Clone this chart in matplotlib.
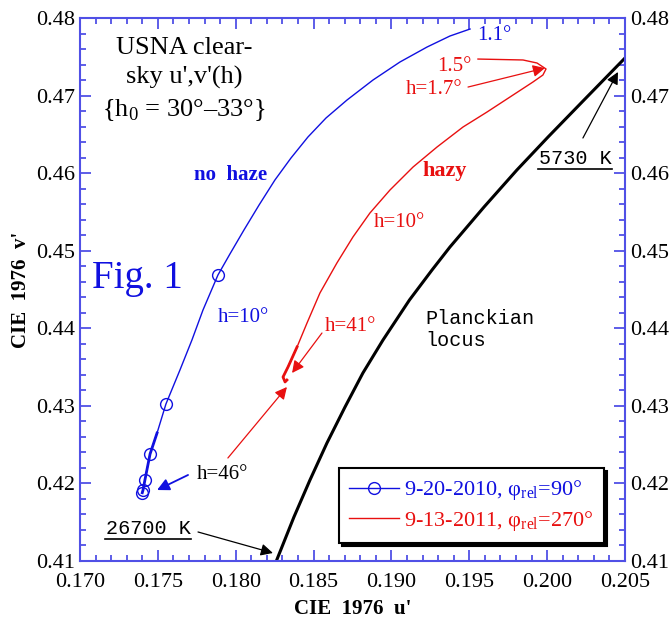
import numpy as np
import matplotlib
matplotlib.use("Agg")
import matplotlib.pyplot as plt
from matplotlib.ticker import MultipleLocator

plt.rcParams['font.family'] = ['Liberation Serif', 'DejaVu Serif']
plt.rcParams['mathtext.fontset'] = 'custom'
plt.rcParams['mathtext.rm'] = 'Liberation Serif'

# no haze, 9-20-2010 (from h=46 deg near the bottom up to h=1.1 deg)
u_blue = [0.17400, 0.17405, 0.17417, 0.17450, 0.17495, 0.17552, 0.17642, 0.17719,
          0.17790, 0.17886, 0.17963, 0.18053, 0.18150, 0.18252, 0.18355, 0.18464,
          0.18580, 0.18715, 0.18882, 0.19055, 0.19229, 0.19376, 0.19505]
v_blue = [0.41880, 0.41915, 0.42044, 0.42379, 0.42650, 0.43024, 0.43462, 0.43849,
          0.44236, 0.44687, 0.44958, 0.45267, 0.45589, 0.45912, 0.46195, 0.46466,
          0.46711, 0.46943, 0.47201, 0.47433, 0.47626, 0.47768, 0.47858]
blue_marks = [0, 1, 2, 3, 5, 9]

# hazy, 9-13-2011 (from h=1.5 deg)
u_red = [0.19556, 0.19845, 0.19935, 0.19993, 0.19973, 0.19909, 0.19781, 0.19614,
         0.19460, 0.19293, 0.19139, 0.18991, 0.18862, 0.18753, 0.18650, 0.18541,
         0.18458, 0.18394, 0.18336, 0.18304, 0.18317, 0.18329]
v_red = [0.47471, 0.47459, 0.47420, 0.47343, 0.47265, 0.47175, 0.47007, 0.46788,
         0.46595, 0.46337, 0.46079, 0.45783, 0.45486, 0.45177, 0.44842, 0.44455,
         0.44068, 0.43759, 0.43501, 0.43372, 0.43308, 0.43333]

# Planckian locus, 26700 K .. 5730 K
u_planck = [0.18261, 0.18374, 0.18477, 0.18586, 0.18702, 0.18817, 0.18946, 0.19116,
            0.19261, 0.19376, 0.19595, 0.19806, 0.20006, 0.20237, 0.20500]
v_planck = [0.41000, 0.41567, 0.42044, 0.42521, 0.42985, 0.43424, 0.43849, 0.44365,
            0.44752, 0.45048, 0.45564, 0.46041, 0.46466, 0.46943, 0.47484]

spine_col = '#5050e6'
blue = '#1010e0'
red = '#e81010'

fig = plt.figure(figsize=(6.71, 6.19), dpi=100)
ax = fig.add_axes([0.1192, 0.0937, 0.8122, 0.8772])

ax.plot(u_planck, v_planck, color='black', lw=2.2)
ax.plot(u_red, v_red, color=red, lw=1, label="9-13-2011, φ$_{\\rm rel}$=270°")
ax.plot(u_red[-5:], v_red[-5:], color=red, lw=2)
ax.plot(u_blue, v_blue, color=blue, lw=1, marker='o', markevery=blue_marks, ms=8.5,
        mfc='none', mec=blue, label="9-20-2010, φ$_{\\rm rel}$=90°")
ax.plot(u_blue[:5], v_blue[:5], color=blue, lw=2)

ax.set_xlim(0.170, 0.205)
ax.set_ylim(0.41, 0.48)
ax.xaxis.set_major_locator(MultipleLocator(0.005))
ax.xaxis.set_minor_locator(MultipleLocator(0.001))
ax.yaxis.set_major_locator(MultipleLocator(0.01))
ax.yaxis.set_minor_locator(MultipleLocator(0.002))
ax.xaxis.set_major_formatter(plt.FormatStrFormatter('%.3f'))
ax.yaxis.set_major_formatter(plt.FormatStrFormatter('%.2f'))
ax.tick_params(which='both', direction='in', top=True, right=True, labelright=True,
               color=spine_col, width=1.3, labelsize=16)
ax.tick_params(which='major', length=8)
ax.tick_params(which='minor', length=4.5)
ax.tick_params(axis='x', which='major', pad=9)
for s in ax.spines.values():
    s.set_color(spine_col)
    s.set_linewidth(1.5)

ax.set_xlabel("CIE  1976  u'", fontsize=15, fontweight='bold', labelpad=5)
ax.set_ylabel("CIE  1976  v'", fontsize=15, fontweight='bold', labelpad=4)

# texts
ax.text(0.17668, 0.47200, "USNA clear-\nsky u',v'(h)\n{h$_0$ = 30°–33°}", fontsize=19,
        ha='center', va='center', linespacing=1.4)
ax.text(0.17372, 0.44648, "Fig. 1", fontsize=28, color=blue, ha='center', va='center')
ax.text(0.17970, 0.45976, "no  haze", fontsize=15, color=blue, fontweight='bold', ha='center', va='center')
ax.text(0.19344, 0.46028, "hazy", fontsize=16, color=red, fontweight='bold', ha='center', va='center')
ax.text(0.19550, 0.47780, "1.1°", fontsize=15, color=blue, ha='left', va='center')
ax.text(0.19517, 0.47381, "1.5°", fontsize=15, color=red, ha='right', va='center')
ax.text(0.19453, 0.47072, "h=1.7°", fontsize=15, color=red, ha='right', va='center')
ax.text(0.18047, 0.44133, "h=10°", fontsize=15, color=blue, ha='center', va='center')
ax.text(0.19049, 0.45370, "h=10°", fontsize=15, color=red, ha='center', va='center')
ax.text(0.18734, 0.44017, "h=41°", fontsize=15, color=red, ha='center', va='center')
ax.text(0.17918, 0.42121, "h=46°", fontsize=15, color='black', ha='center', va='center')
ax.text(0.19216, 0.43985, "Planckian\nlocus", fontsize=14.5, family='Liberation Mono',
        ha='left', va='center', linespacing=1.15)
t1 = ax.text(0.20179, 0.46195, "5730 K", fontsize=14.5, family='Liberation Mono',
             ha='center', va='center')
t2 = ax.text(0.17437, 0.41425, "26700 K", fontsize=14.5, family='Liberation Mono',
             ha='center', va='center')

arr = dict(arrowstyle='-|>', mutation_scale=18, lw=0.9, shrinkA=0, shrinkB=0)
ax.annotate("", xy=(0.19986, 0.47355), xytext=(0.19492, 0.47110), arrowprops=dict(arr, color=red))
ax.annotate("", xy=(0.18362, 0.43424), xytext=(0.18554, 0.43939), arrowprops=dict(arr, color=red))
ax.annotate("", xy=(0.18329, 0.43243), xytext=(0.17950, 0.42328), arrowprops=dict(arr, color=red))
ax.annotate("", xy=(0.17495, 0.41915), xytext=(0.17694, 0.42109),
            arrowprops=dict(arr, color=blue, lw=1.3))
ax.annotate("", xy=(0.20455, 0.47304), xytext=(0.20230, 0.46453), arrowprops=dict(arr, color='black'))
ax.annotate("", xy=(0.18239, 0.41103), xytext=(0.17758, 0.41374), arrowprops=dict(arr, color='black'))

# underline the temperature labels
fig.canvas.draw()
inv = ax.transData.inverted()
for t in (t1, t2):
    bb = t.get_window_extent()
    (x0, y0), (x1, _) = inv.transform([(bb.x0 - 1, bb.y0 - 1), (bb.x1 + 1, bb.y0)])
    ax.plot([x0, x1], [y0, y0], color='black', lw=1.2, clip_on=False)

handles, labels = ax.get_legend_handles_labels()
leg = ax.legend(handles[::-1], labels[::-1], loc='lower right', bbox_to_anchor=(0.9615, 0.0331),
                fontsize=16, frameon=True, fancybox=False, shadow={'color': 'black', 'alpha': 1},
                labelcolor='linecolor', handlelength=2.25, handletextpad=0.25,
                borderpad=0.45, labelspacing=0.3, borderaxespad=0)
leg.get_frame().set_edgecolor('black')
leg.get_frame().set_linewidth(1.5)
leg.get_frame().set_alpha(1)

fig.savefig("out.png", dpi=100)
